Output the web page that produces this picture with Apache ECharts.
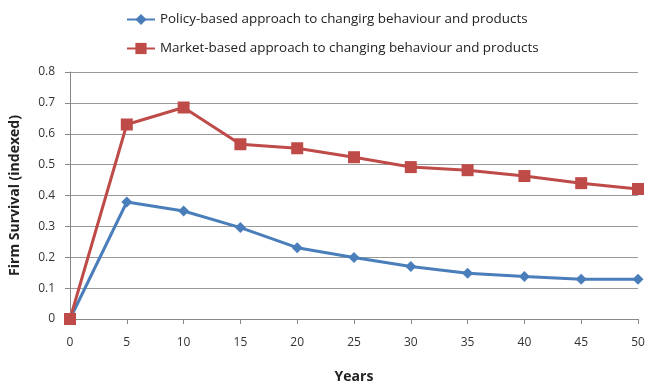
<!DOCTYPE html>
<html>
<head>
<meta charset="utf-8">
<script src="https://cdn.jsdelivr.net/npm/echarts@6/dist/echarts.min.js"></script>
<style>
  html, body { margin: 0; padding: 0; background: #fff; }
  #chart { width: 649px; height: 389px; }
</style>
</head>
<body>
<div id="chart"></div>
<script>
// Years since start
const years = [0, 5, 10, 15, 20, 25, 30, 35, 40, 45, 50];
// Firm survival (indexed) per approach
const policySeries = [0, 0.379, 0.350, 0.296, 0.231, 0.199, 0.170, 0.148, 0.138, 0.129, 0.129];
const marketSeries = [0, 0.630, 0.685, 0.566, 0.553, 0.524, 0.492, 0.482, 0.463, 0.440, 0.421];
const policyName = 'Policy-based approach to changirg behaviour and products';
const marketName = 'Market-based approach to changing behaviour and products';

const pairs = (vals) => years.map((y, i) => [y, vals[i]]);

const chart = echarts.init(document.getElementById('chart'));
chart.setOption({
  animation: false,
  textStyle: { fontFamily: '"Open Sans", "Liberation Sans", sans-serif' },
  legend: {
    orient: 'vertical',
    left: 121,
    top: 8,
    itemGap: 16,
    itemWidth: 28,
    itemHeight: 14,
    textStyle: { fontSize: 13.4, color: '#222', fontFamily: '"Open Sans", sans-serif' },
    data: [policyName, marketName]
  },
  grid: { left: 69, right: 11, top: 72, bottom: 67 },
  xAxis: {
    type: 'value',
    min: 0, max: 50, interval: 5,
    name: 'Years',
    nameLocation: 'middle',
    nameGap: 51,
    nameTextStyle: { fontSize: 14, fontWeight: 'bold', color: '#222' },
    axisLine: { lineStyle: { color: '#888', width: 1 } },
    axisTick: { show: true, length: 5, lineStyle: { color: '#888' } },
    axisLabel: { fontSize: 12, color: '#333', margin: 18 },
    splitLine: { show: false }
  },
  yAxis: {
    type: 'value',
    min: 0, max: 0.8, interval: 0.1,
    name: 'Firm Survival (indexed)',
    nameLocation: 'middle',
    nameGap: 48,
    nameTextStyle: { fontSize: 14, fontWeight: 'bold', color: '#222' },
    axisLine: { show: true, lineStyle: { color: '#888', width: 1 } },
    axisTick: { show: true, length: 5, lineStyle: { color: '#888' } },
    axisLabel: { fontSize: 12, color: '#333', margin: 15, formatter: (v) => v === 0 ? '0' : v.toFixed(1) },
    splitLine: { show: true, lineStyle: { color: '#999', width: 1 } }
  },
  series: [
    {
      name: policyName,
      type: 'line',
      data: pairs(policySeries),
      symbol: 'diamond',
      symbolSize: 11,
      lineStyle: { color: '#4a7ebb', width: 3 },
      itemStyle: { color: '#4a7ebb' },
      z: 2
    },
    {
      name: marketName,
      type: 'line',
      data: pairs(marketSeries),
      symbol: 'rect',
      symbolSize: 12,
      lineStyle: { color: '#be4b48', width: 3 },
      itemStyle: { color: '#be4b48' },
      z: 3
    }
  ]
});
</script>
</body>
</html>
